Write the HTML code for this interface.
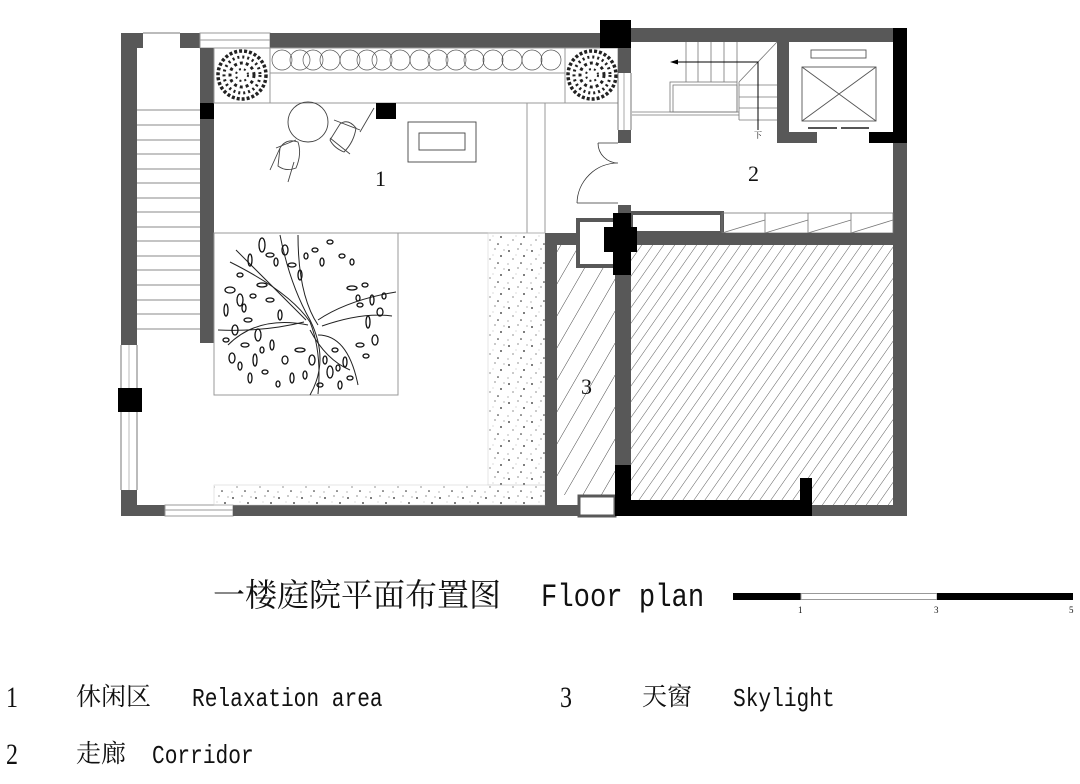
<!DOCTYPE html>
<html><head><meta charset="utf-8"><style>
html,body{margin:0;padding:0;background:#fff;}
svg{display:block}
.cj{font-family:"Liberation Serif","Noto Serif CJK SC","Noto Sans CJK SC",serif;}
.mo{font-family:"Liberation Mono",monospace;}
.se{font-family:"Liberation Serif",serif;}
</style></head><body>
<svg width="1080" height="784" viewBox="0 0 1080 784" xmlns="http://www.w3.org/2000/svg">
<defs>
<pattern id="hatch" width="9" height="9" patternUnits="userSpaceOnUse" patternTransform="rotate(35)">
<line x1="0" y1="0" x2="0" y2="9" stroke="#333" stroke-width="0.8"/>
</pattern>
<pattern id="hatch2" width="16" height="16" patternUnits="userSpaceOnUse" patternTransform="rotate(30)">
<line x1="0" y1="0" x2="0" y2="16" stroke="#333" stroke-width="0.9"/>
</pattern>
<pattern id="grav" width="23" height="19" patternUnits="userSpaceOnUse">
<circle cx="3" cy="4" r="0.9" fill="#222"/><circle cx="12" cy="2" r="0.6" fill="#444"/>
<circle cx="18" cy="9" r="0.9" fill="#222"/><circle cx="7" cy="12" r="0.6" fill="#444"/>
<circle cx="15" cy="16" r="0.8" fill="#222"/><circle cx="2" cy="17" r="0.5" fill="#444"/>
<circle cx="21" cy="3" r="0.5" fill="#444"/><circle cx="10" cy="8" r="0.4" fill="#666"/>
</pattern>
<g id="shrub">
<circle r="24" fill="none" stroke="#222" stroke-width="3.5" stroke-dasharray="3 2"/>
<circle r="18" fill="none" stroke="#222" stroke-width="3" stroke-dasharray="2 3"/>
<circle r="12" fill="none" stroke="#222" stroke-width="3" stroke-dasharray="3 3"/>
<circle r="6" fill="none" stroke="#222" stroke-width="2" stroke-dasharray="2 3"/>
</g>
</defs>

<rect x="121" y="33" width="16" height="312" fill="#585858"/>
<rect x="121" y="490" width="16" height="26" fill="#585858"/>
<line x1="121" y1="345" x2="121" y2="490" stroke="#777"/><line x1="137" y1="345" x2="137" y2="490" stroke="#777"/>
<line x1="129" y1="345" x2="129" y2="490" stroke="#bbb"/>
<rect x="118" y="388" width="24" height="24" fill="#000"/>
<rect x="137" y="33" width="6" height="15" fill="#585858"/>
<line x1="143" y1="33" x2="180" y2="33" stroke="#777"/>
<rect x="180" y="33" width="20" height="15" fill="#585858"/>
<rect x="200" y="33" width="70" height="15" fill="#fff" stroke="#999"/>
<line x1="200" y1="40" x2="270" y2="40" stroke="#999"/>
<rect x="270" y="33" width="335" height="15" fill="#585858"/>
<g stroke="#888" stroke-width="1">
<line x1="137" y1="110" x2="200" y2="110"/><line x1="137" y1="125" x2="200" y2="125"/><line x1="137" y1="140" x2="200" y2="140"/><line x1="137" y1="154" x2="200" y2="154"/><line x1="137" y1="169" x2="200" y2="169"/><line x1="137" y1="183" x2="200" y2="183"/><line x1="137" y1="198" x2="200" y2="198"/><line x1="137" y1="212" x2="200" y2="212"/><line x1="137" y1="227" x2="200" y2="227"/><line x1="137" y1="241" x2="200" y2="241"/><line x1="137" y1="256" x2="200" y2="256"/><line x1="137" y1="270" x2="200" y2="270"/><line x1="137" y1="285" x2="200" y2="285"/><line x1="137" y1="300" x2="200" y2="300"/><line x1="137" y1="314" x2="200" y2="314"/><line x1="137" y1="329" x2="200" y2="329"/>
</g>
<rect x="200" y="48" width="14" height="295" fill="#585858"/>
<rect x="200" y="103" width="14" height="16" fill="#000"/>
<rect x="137" y="505" width="28" height="11" fill="#585858"/>
<rect x="165" y="505" width="68" height="11" fill="#fff" stroke="#999"/>
<line x1="165" y1="510" x2="233" y2="510" stroke="#999"/>
<rect x="233" y="505" width="345" height="11" fill="#585858"/>
<g fill="none" stroke="#999" stroke-width="1">
<rect x="214" y="48" width="56" height="55"/>
<rect x="270" y="48" width="295" height="55"/>
<line x1="270" y1="73" x2="565" y2="73"/>
<rect x="565" y="48" width="53" height="55"/>
</g>
<use href="#shrub" x="242" y="75"/>
<use href="#shrub" x="592" y="75"/>
<g fill="none" stroke="#555" stroke-width="0.7">
<circle cx="282" cy="60" r="10"/><circle cx="300" cy="60" r="10"/><circle cx="313" cy="60" r="10"/><circle cx="330" cy="60" r="10"/><circle cx="350" cy="60" r="10"/><circle cx="367" cy="60" r="10"/><circle cx="382" cy="60" r="10"/><circle cx="400" cy="60" r="10"/><circle cx="420" cy="60" r="10"/><circle cx="438" cy="60" r="10"/><circle cx="456" cy="60" r="10"/><circle cx="474" cy="60" r="10"/><circle cx="493" cy="60" r="10"/><circle cx="512" cy="60" r="10"/><circle cx="532" cy="60" r="10"/><circle cx="551" cy="60" r="10"/>
</g>
<g fill="none" stroke="#999" stroke-width="1">
<line x1="214" y1="233" x2="545" y2="233"/>
<line x1="527" y1="103" x2="527" y2="233"/>
<line x1="545" y1="103" x2="545" y2="233"/>
<line x1="214" y1="103" x2="618" y2="103"/>
</g>
<rect x="376" y="103" width="20" height="16" fill="#000"/>
<g fill="none" stroke="#444" stroke-width="0.9">
<circle cx="308" cy="122" r="20"/>
<path d="M280 148 q6 -10 18 -6 q4 12 -2 26 q-10 4 -18 -2 z"/>
<path d="M270 170 l10 -22 M288 182 l6 -20 M276 148 l20 -8"/>
<path d="M340 124 q8 -6 16 4 q-2 14 -12 24 q-10 -4 -14 -12 z"/>
<path d="M334 120 l26 10 M360 132 l14 -24 M330 138 l20 16"/>
<rect x="408" y="122" width="68" height="40"/>
<rect x="419" y="133" width="46" height="17"/>
</g>
<text x="375" y="186" class="se" font-size="22" fill="#111">1</text>
<rect x="214" y="233" width="184" height="162" fill="none" stroke="#999"/>
<g fill="none" stroke="#222" stroke-width="1">
<path d="M230 262 q60 30 80 60 q12 30 8 72"/>
<path d="M236 250 q40 40 70 70"/>
<path d="M280 235 q10 50 30 85 q20 40 0 75"/>
<path d="M298 235 q0 60 20 90"/>
<path d="M318 320 q30 -20 78 -28"/>
<path d="M322 326 q40 -14 70 -10"/>
<path d="M304 322 q-40 10 -86 8"/>
<path d="M308 325 q-50 -10 -80 20"/>
<path d="M310 330 q16 30 40 40"/>
<path d="M318 335 q30 0 40 50"/>
</g>
<g fill="none" stroke="#111" stroke-width="1.3">
<ellipse cx="262" cy="245" rx="3" ry="7"/><ellipse cx="270" cy="255" rx="4" ry="2"/><ellipse cx="250" cy="260" rx="2" ry="6"/><ellipse cx="285" cy="250" rx="3" ry="5"/><ellipse cx="292" cy="265" rx="4" ry="2"/><ellipse cx="300" cy="275" rx="2" ry="5"/><ellipse cx="315" cy="250" rx="3" ry="2"/><ellipse cx="322" cy="262" rx="2" ry="4"/><ellipse cx="330" cy="242" rx="3" ry="2"/>
<ellipse cx="230" cy="290" rx="5" ry="3"/><ellipse cx="240" cy="300" rx="3" ry="6"/><ellipse cx="226" cy="310" rx="2" ry="6"/><ellipse cx="248" cy="320" rx="4" ry="2"/><ellipse cx="235" cy="330" rx="3" ry="5"/><ellipse cx="258" cy="335" rx="3" ry="6"/><ellipse cx="245" cy="345" rx="4" ry="2"/><ellipse cx="232" cy="358" rx="3" ry="5"/><ellipse cx="255" cy="360" rx="2" ry="6"/><ellipse cx="265" cy="372" rx="3" ry="2"/><ellipse cx="250" cy="378" rx="2" ry="5"/>
<ellipse cx="270" cy="300" rx="4" ry="2"/><ellipse cx="280" cy="315" rx="2" ry="5"/><ellipse cx="272" cy="345" rx="2" ry="5"/><ellipse cx="285" cy="360" rx="3" ry="4"/><ellipse cx="292" cy="378" rx="2" ry="5"/>
<ellipse cx="352" cy="288" rx="5" ry="2"/><ellipse cx="365" cy="285" rx="3" ry="2"/><ellipse cx="372" cy="300" rx="2" ry="5"/><ellipse cx="360" cy="305" rx="3" ry="2"/><ellipse cx="380" cy="312" rx="3" ry="4"/><ellipse cx="368" cy="322" rx="2" ry="6"/><ellipse cx="375" cy="340" rx="3" ry="5"/><ellipse cx="360" cy="345" rx="4" ry="2"/>
<ellipse cx="335" cy="350" rx="3" ry="2"/><ellipse cx="345" cy="362" rx="2" ry="5"/><ellipse cx="330" cy="372" rx="3" ry="6"/><ellipse cx="350" cy="378" rx="3" ry="2"/><ellipse cx="340" cy="385" rx="2" ry="4"/><ellipse cx="312" cy="360" rx="3" ry="5"/><ellipse cx="305" cy="375" rx="2" ry="4"/><ellipse cx="320" cy="385" rx="3" ry="2"/><ellipse cx="300" cy="350" rx="5" ry="2"/>
<ellipse cx="342" cy="256" rx="3" ry="2"/><ellipse cx="352" cy="262" rx="2" ry="3"/><ellipse cx="240" cy="275" rx="3" ry="2"/><ellipse cx="262" cy="285" rx="5" ry="2"/>
<ellipse cx="244" cy="308" rx="2" ry="4"/><ellipse cx="253" cy="296" rx="3" ry="2"/><ellipse cx="226" cy="340" rx="3" ry="2"/><ellipse cx="240" cy="366" rx="2" ry="4"/><ellipse cx="262" cy="350" rx="2" ry="3"/><ellipse cx="276" cy="262" rx="2" ry="4"/><ellipse cx="306" cy="256" rx="2" ry="3"/><ellipse cx="358" cy="298" rx="2" ry="3"/><ellipse cx="384" cy="296" rx="2" ry="3"/><ellipse cx="366" cy="356" rx="3" ry="2"/><ellipse cx="325" cy="360" rx="2" ry="4"/><ellipse cx="338" cy="368" rx="2" ry="3"/><ellipse cx="278" cy="384" rx="2" ry="3"/>
</g>
<rect x="488" y="233" width="57" height="252" fill="url(#grav)" stroke="#ccc" stroke-width="0.5"/>
<rect x="214" y="485" width="331" height="20" fill="url(#grav)" stroke="#ccc" stroke-width="0.5"/>
<rect x="545" y="233" width="12" height="272" fill="#585858"/>
<rect x="557" y="233" width="20" height="12" fill="#585858"/>
<rect x="557" y="245" width="58" height="250" fill="url(#hatch2)"/>
<rect x="579" y="496" width="36" height="20" fill="#fff" stroke="#585858" stroke-width="3"/>
<text x="581" y="394" class="se" font-size="22" fill="#111">3</text>
<rect x="631" y="245" width="262" height="260" fill="url(#hatch)"/>
<rect x="615" y="245" width="16" height="225" fill="#585858"/>
<rect x="615" y="465" width="16" height="51" fill="#000"/>
<rect x="615" y="500" width="197" height="16" fill="#000"/>
<rect x="800" y="478" width="12" height="38" fill="#000"/>
<rect x="812" y="505" width="95" height="11" fill="#585858"/>
<rect x="600" y="20" width="31" height="28" fill="#000"/>
<rect x="631" y="28" width="262" height="14" fill="#585858"/>
<rect x="893" y="28" width="14" height="115" fill="#000"/>
<rect x="893" y="143" width="14" height="373" fill="#585858"/>
<rect x="618" y="48" width="13" height="25" fill="#585858"/>
<line x1="618" y1="73" x2="618" y2="130" stroke="#777"/><line x1="631" y1="73" x2="631" y2="130" stroke="#777"/><line x1="624" y1="73" x2="624" y2="130" stroke="#aaa"/>
<rect x="618" y="130" width="13" height="13" fill="#585858"/>
<rect x="618" y="205" width="13" height="8" fill="#585858"/>
<path d="M598 143 h20 M577 203 h41 M598 143 A 20 20 0 0 0 618 163 M618 163 A 41 41 0 0 0 577 203" fill="none" stroke="#333" stroke-width="0.8"/>
<rect x="777" y="42" width="12" height="101" fill="#585858"/>
<rect x="789" y="132" width="28" height="11" fill="#585858"/>
<rect x="869" y="132" width="24" height="11" fill="#000"/>
<g fill="none" stroke="#555" stroke-width="0.9">
<rect x="811" y="50" width="55" height="8"/>
<rect x="802" y="67" width="74" height="54"/>
<path d="M802 67 L876 121 M876 67 L802 121"/>
<line x1="808" y1="128" x2="837" y2="128" stroke-width="2"/><line x1="841" y1="128" x2="869" y2="128" stroke-width="2"/>
</g>
<g fill="none" stroke="#777" stroke-width="0.8">
<line x1="686" y1="42" x2="686" y2="82"/><line x1="698" y1="42" x2="698" y2="82"/><line x1="711" y1="42" x2="711" y2="82"/><line x1="724" y1="42" x2="724" y2="82"/><line x1="737" y1="42" x2="737" y2="82"/>
<line x1="777" y1="42" x2="739" y2="82"/>
<rect x="670" y="82" width="67" height="30"/><rect x="673" y="85" width="64" height="27"/>
<line x1="632" y1="112" x2="739" y2="112"/><line x1="632" y1="115" x2="739" y2="115"/>
<line x1="739" y1="82" x2="739" y2="120"/>
<line x1="739" y1="85" x2="777" y2="85"/><line x1="739" y1="97" x2="777" y2="97"/><line x1="739" y1="108" x2="777" y2="108"/><line x1="739" y1="120" x2="777" y2="120"/>
</g>
<path d="M758 130 V62 H676" fill="none" stroke="#000" stroke-width="1"/>
<path d="M670 62 l8 -2.5 v5 z" fill="#000"/>
<text x="754" y="138" class="cj" font-size="8" fill="#000">下</text>
<text x="748" y="181" class="se" font-size="22" fill="#111">2</text>
<rect x="631" y="213" width="91" height="20" fill="none" stroke="#585858" stroke-width="4"/>
<g fill="none" stroke="#777" stroke-width="0.8">
<rect x="722" y="213" width="171" height="20"/>
<line x1="765" y1="213" x2="765" y2="233"/><line x1="808" y1="213" x2="808" y2="233"/><line x1="851" y1="213" x2="851" y2="233"/>
<line x1="722" y1="233" x2="765" y2="220"/><line x1="765" y1="233" x2="808" y2="220"/><line x1="808" y1="233" x2="851" y2="220"/><line x1="851" y1="233" x2="893" y2="220"/>
</g>
<rect x="631" y="233" width="262" height="12" fill="#585858"/>
<rect x="578" y="220" width="38" height="46" fill="#fff" stroke="#585858" stroke-width="4"/>
<rect x="613" y="213" width="18" height="62" fill="#000"/>
<rect x="604" y="227" width="33" height="25" fill="#000"/>

<text x="213" y="606" class="cj" font-size="32" fill="#111">一楼庭院平面布置图</text>
<g transform="translate(541,606) scale(0.85,1)"><text class="mo" font-size="32" fill="#111">Floor plan</text></g>
<rect x="733" y="593" width="68" height="7" fill="#000"/>
<rect x="801" y="593.5" width="136" height="6" fill="#fff" stroke="#999"/>
<rect x="937" y="593" width="136" height="7" fill="#000"/>
<text x="798" y="613" class="se" font-size="9" fill="#111">1</text>
<text x="934" y="613" class="se" font-size="9" fill="#111">3</text>
<text x="1069" y="613" class="se" font-size="9" fill="#111">5</text>

<g transform="translate(6,707) scale(0.8,1)"><text class="se" font-size="30" fill="#111">1</text></g>
<text x="76" y="705" class="cj" font-size="25" fill="#111">休闲区</text>
<g transform="translate(192,706) scale(0.815,1)"><text class="mo" font-size="26" fill="#111">Relaxation area</text></g>
<g transform="translate(560,707) scale(0.8,1)"><text class="se" font-size="30" fill="#111">3</text></g>
<text x="642" y="705" class="cj" font-size="25" fill="#111">天窗</text>
<g transform="translate(733,706) scale(0.815,1)"><text class="mo" font-size="26" fill="#111">Skylight</text></g>
<g transform="translate(6,764) scale(0.8,1)"><text class="se" font-size="30" fill="#111">2</text></g>
<text x="76" y="762" class="cj" font-size="25" fill="#111">走廊</text>
<g transform="translate(152,763) scale(0.815,1)"><text class="mo" font-size="26" fill="#111">Corridor</text></g>
</svg>
</body></html>
